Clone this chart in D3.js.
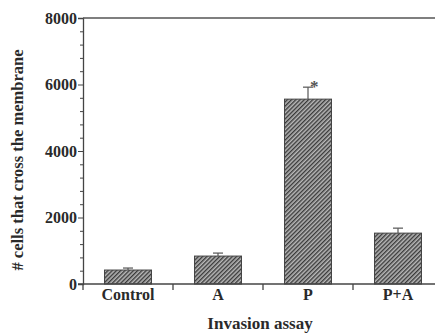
<!DOCTYPE html>
<meta charset="utf-8">
<script src="https://d3js.org/d3.v7.min.js"></script>
<style>
  body { margin: 0; background: #fff; }
  text { font-family: "Liberation Serif", "Times New Roman", serif; font-weight: bold; fill: #2a2a2a; }
</style>
<div id="chart"></div>
<script>
// data
var groups = ["Control", "A", "P", "P+A"];
var means  = [420, 840, 5560, 1530];
var errors = [60, 90, 360, 150];
var marks  = ["", "", "*", ""];
var majorTicks = [0, 2000, 4000, 6000, 8000];

var width = 435, height = 333;
var margin = {top: 18, right: -8, bottom: 49, left: 83};

var svg = d3.select("#chart").append("svg")
    .attr("width", width)
    .attr("height", height);

// hatch fill for the bars
var pat = svg.append("defs").append("pattern")
    .attr("id", "hatch")
    .attr("patternUnits", "userSpaceOnUse")
    .attr("width", 3).attr("height", 3)
    .attr("patternTransform", "rotate(45)");
pat.append("rect").attr("width", 3).attr("height", 3).attr("fill", "#b8b8b8");
pat.append("line")
    .attr("x1", 0.7).attr("y1", 0).attr("x2", 0.7).attr("y2", 3)
    .attr("stroke", "#3a3a3a").attr("stroke-width", 1.4);

var x = d3.scaleBand()
    .domain(groups)
    .range([margin.left, width - margin.right])
    .paddingInner(0)
    .paddingOuter(0);

var y = d3.scaleLinear()
    .domain([0, 8000])
    .range([height - margin.bottom, margin.top]);

var barW = 47;

// bars
svg.append("g").selectAll("rect")
  .data(groups)
  .enter().append("rect")
    .attr("x", function(d) { return x(d) + x.bandwidth() / 2 - barW / 2; })
    .attr("y", function(d, i) { return y(means[i]); })
    .attr("width", barW)
    .attr("height", function(d, i) { return y(0) - y(means[i]); })
    .attr("fill", "url(#hatch)")
    .attr("stroke", "#444")
    .attr("stroke-width", 1);

// error bars (upper only)
var eb = svg.append("g").attr("stroke", "#555").attr("stroke-width", 1.2);
groups.forEach(function(g, i) {
  var cx = x(g) + x.bandwidth() / 2;
  eb.append("line")
    .attr("x1", cx).attr("x2", cx)
    .attr("y1", y(means[i])).attr("y2", y(means[i] + errors[i]));
  eb.append("line")
    .attr("x1", cx - 5).attr("x2", cx + 5)
    .attr("y1", y(means[i] + errors[i])).attr("y2", y(means[i] + errors[i]));
  if (marks[i]) {
    svg.append("text")
      .attr("x", cx + 2)
      .attr("y", y(means[i] + errors[i]) + 5)
      .attr("font-size", "17px")
      .style("fill", "#555")
      .text(marks[i]);
  }
});

// y axis, major + minor ticks
var yAxis = svg.append("g")
    .attr("transform", "translate(" + margin.left + ",0)")
    .call(d3.axisLeft(y).tickValues(majorTicks).tickSize(5).tickPadding(1).tickFormat(d3.format("d")));
svg.append("g")
    .attr("transform", "translate(" + margin.left + ",0)")
    .call(d3.axisLeft(y).tickValues(d3.range(400, 8000, 400).filter(function(v) { return v % 2000; }))
      .tickSize(3).tickFormat(""))
    .select(".domain").remove();
yAxis.selectAll("text").attr("font-size", "16px").style("fill", "#2a2a2a");

// x axis: baseline with ticks between the groups
var xg = svg.append("g").attr("stroke", "#444").attr("stroke-width", 1.3);
xg.append("line")
    .attr("x1", margin.left - 5).attr("x2", width)
    .attr("y1", y(0)).attr("y2", y(0));
groups.slice(1).forEach(function(g) {
  xg.append("line")
    .attr("x1", x(g)).attr("x2", x(g))
    .attr("y1", y(0)).attr("y2", y(0) + 6);
});
svg.append("line")
    .attr("x1", margin.left).attr("x2", margin.left)
    .attr("y1", y(0)).attr("y2", y(0) + 6)
    .attr("stroke", "#444").attr("stroke-width", 1.3);

// top frame line
svg.append("line")
    .attr("x1", margin.left).attr("x2", width)
    .attr("y1", y(8000)).attr("y2", y(8000))
    .attr("stroke", "#555").attr("stroke-width", 1.3);

svg.selectAll(".domain").attr("stroke", "#444").attr("stroke-width", 1.3);
svg.selectAll(".tick line").attr("stroke", "#444");

// category labels
svg.append("g").selectAll("text")
  .data(groups)
  .enter().append("text")
    .attr("x", function(d) { return x(d) + x.bandwidth() / 2; })
    .attr("y", 300)
    .attr("text-anchor", "middle")
    .attr("font-size", "16px")
    .text(function(d) { return d; });

// axis titles
svg.append("text")
    .attr("x", 260)
    .attr("y", 329)
    .attr("text-anchor", "middle")
    .attr("font-size", "17px")
    .text("Invasion assay");

svg.append("text")
    .attr("transform", "translate(23,160) rotate(-90)")
    .attr("text-anchor", "middle")
    .attr("font-size", "16.5px")
    .text("# cells that cross the membrane");
</script>
